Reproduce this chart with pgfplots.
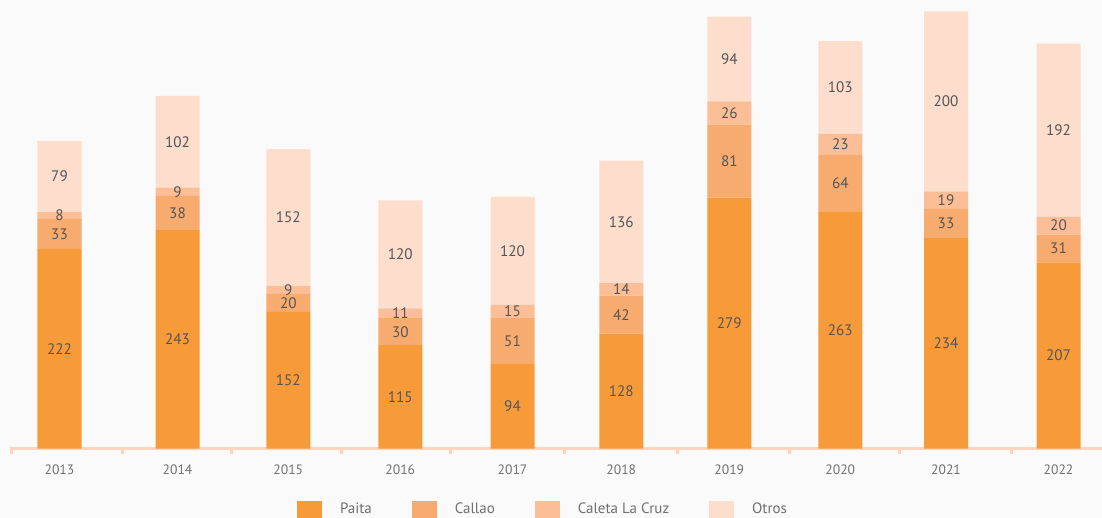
\documentclass[border=0pt]{standalone}
\usepackage{pgfplots}
\pgfplotsset{compat=1.18}
\usepackage{pgfplotstable}
\usepackage{fontspec}
\setmainfont{PT Sans}
\definecolor{paita}{RGB}{247,154,57}
\definecolor{callao}{RGB}{248,171,110}
\definecolor{caleta}{RGB}{252,190,150}
\definecolor{otros}{RGB}{253,221,204}
\definecolor{axisc}{RGB}{253,212,190}
\definecolor{bgc}{RGB}{250,250,250}
\definecolor{valc}{RGB}{85,85,85}
\definecolor{tickl}{RGB}{112,112,112}
\pgfplotstableread{
x p c l o
59.5 222 33 8 79
177.5 243 38 9 102
288.3 152 20 9 152
400.3 115 30 11 120
512.5 94 51 15 120
621.3 128 42 14 136
729.3 279 81 26 94
840.3 263 64 23 103
946 234 33 19 200
1058.5 207 31 20 192
}\data
\begin{document}
\begin{tikzpicture}
\fill[bgc] (0,0) rectangle (551pt,259pt);
\begin{axis}[
  at={(5pt,34.65pt)}, anchor=south west,
  scale only axis, width=546pt, height=224.35pt,
  xmin=10, xmax=1102, ymin=0, ymax=498.6,
  ybar stacked, bar width=44,
  clip=false,
  axis x line*=bottom, axis y line=none,
  x axis line style={-, draw=axisc, line width=1.35pt},
  xtick={59.5,177.5,288.3,400.3,512.5,621.3,729.3,840.3,946,1058.5},
  xticklabels={\mbox{2013},\mbox{2014},\mbox{2015},\mbox{2016},\mbox{2017},\mbox{2018},\mbox{2019},\mbox{2020},\mbox{2021},\mbox{2022}},
  major tick length=0pt,
  xticklabel style={font=\fontsize{6.8}{8}\selectfont, text=tickl, anchor=base, yshift=-13pt},
  extra x ticks={11.5,122.3,231.7,341,450,564.7,677.7,789,899,1011},
  extra x tick labels={},
  extra x tick style={major tick length=2.75pt, tick align=outside, tick style={draw=axisc, line width=1.5pt}},
  legend image code/.code={\fill[#1] (0pt,-4.5pt) rectangle (12.5pt,4.5pt);},
  legend columns=4,
  legend style={draw=none, fill=none, inner sep=0pt, outer sep=0pt, anchor=west,
    at={(axis cs:297,-68.1)}, nodes={inner sep=0pt},
    font=\fontsize{7.5}{9}\selectfont, text=tickl,
    /tikz/every odd column/.append style={column sep=9pt},
    /tikz/every even column/.append style={column sep=20pt}},
]
\addplot[fill=paita, draw=none] table[x=x, y=p] {\data};
\addplot[fill=callao, draw=none] table[x=x, y=c] {\data};
\addplot[fill=caleta, draw=none] table[x=x, y=l] {\data};
\addplot[fill=otros, draw=none] table[x=x, y=o] {\data};
\legend{Paita, Callao, Caleta La Cruz, Otros}
\end{axis}
\begin{axis}[
  at={(5pt,34.65pt)}, anchor=south west,
  scale only axis, width=546pt, height=224.35pt,
  xmin=10, xmax=1102, ymin=0, ymax=498.6,
  hide axis, clip=false,
  /pgf/number format/assume math mode=true,
  nodes near coords,
  every node near coord/.append style={anchor=center, font=\fontsize{7.6}{9}\selectfont, text=valc},
]
\addplot[draw=none, point meta=explicit] table[x=x, y expr=\thisrow{p}/2, meta=p] {\data};
\addplot[draw=none, point meta=explicit] table[x=x, y expr=\thisrow{p}+\thisrow{c}/2, meta=c] {\data};
\addplot[draw=none, point meta=explicit] table[x=x, y expr=\thisrow{p}+\thisrow{c}+\thisrow{l}/2, meta=l] {\data};
\addplot[draw=none, point meta=explicit] table[x=x, y expr=\thisrow{p}+\thisrow{c}+\thisrow{l}+\thisrow{o}/2, meta=o] {\data};
\end{axis}
\pgfresetboundingbox
\path[use as bounding box] (0,0) rectangle (551pt,259pt);
\end{tikzpicture}
\end{document}
